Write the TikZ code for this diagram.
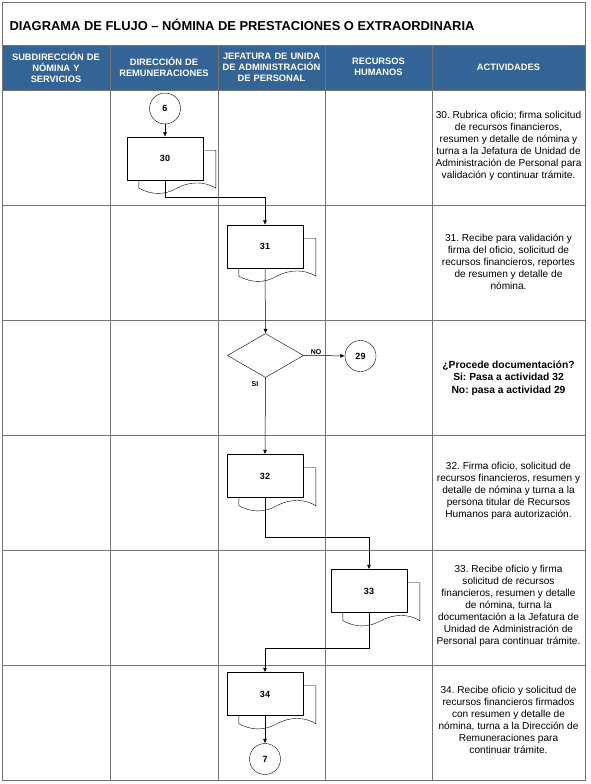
\documentclass[tikz,border=0pt]{standalone}
\usepackage{fontspec}
\setmainfont{Liberation Sans}
\usetikzlibrary{arrows.meta,positioning,shapes.geometric}
\definecolor{headblue}{RGB}{52,99,150}
\frenchspacing

\begin{document}
\begin{tikzpicture}[
      x=1pt, y=-1pt,
      grid/.style={draw=black!55, line width=0.5pt},
      head/.style={text=white, font=\bfseries\fontsize{9.3}{11}\selectfont, align=center, text width=107pt, inner sep=0pt},
      doc/.style={rectangle, draw, fill=white, minimum width=76pt, minimum height=43pt, font=\bfseries\fontsize{9}{10}\selectfont},
      conn/.style={circle, draw, fill=white, minimum size=31pt, inner sep=0pt, font=\bfseries\fontsize{9}{10}\selectfont},
      decision/.style={diamond, draw, fill=white, aspect=1.73, minimum width=76pt, minimum height=44pt, inner sep=0pt},
      act/.style={align=center, inner sep=0pt, font=\fontsize{10.1}{11.9}\selectfont},
      flow/.style={draw, line width=0.5pt, -{Latex[length=4.5pt,width=4pt]}},
      lbl/.style={font=\bfseries\fontsize{7}{8}\selectfont, inner sep=1pt},
    ]
    \useasboundingbox (0,0) rectangle (590,784);
    \fill[headblue] (2,45) rectangle (585,90);
    \draw[grid] (2,2) rectangle (585,780);
    \foreach \y in {45,90,205,320,435,550,665} \draw[grid] (2,\y) -- (585,\y);
    \foreach \x in {110,218,325,432} \draw[grid] (\x,45) -- (\x,780);

    \node[anchor=west, font=\bfseries\fontsize{12.9}{15}\selectfont] (title) at (6,25)
      {DIAGRAMA DE FLUJO – NÓMINA DE PRESTACIONES O EXTRAORDINARIA};
    \node[head] (h1) at (56,67) {SUBDIRECCIÓN DE\\NÓMINA Y\\SERVICIOS};
    \node[head] (h2) at (164,67) {DIRECCIÓN DE\\REMUNERACIONES};
    \node[head] (h3) at (271.5,67) {JEFATURA DE UNIDA\\DE ADMINISTRACIÓN\\DE PERSONAL};
    \node[head] (h4) at (378.5,67) {RECURSOS\\HUMANOS};
    \node[head] (h5) at (508.5,67) {ACTIVIDADES};

    \node[conn] (c6) at (165,108.5) {6};
    \node[doc] (d30) at (165,158.5) {30};
    \node[doc] (d31) at (265,246.5) {31};
    \node[decision] (dec) at (265.5,355.5) {};
    \node[conn] (c29) at (360.5,356) {29};
    \node[doc] (d32) at (265,476) {32};
    \node[doc] (d33) at (369,591) {33};
    \node[doc] (d34) at (265,694) {34};
    \node[conn] (c7) at (265,759) {7};

    \foreach \d in {d30,d31,d32,d33,d34}
      \draw[shift={(\d.south west)}] (76,-30) -- (89,-30) -- (89,8)
        .. controls (78,1) and (63,1) .. (50,8)
        .. controls (38,15) and (25,15) .. (12,8) -- (12,0);

    \draw[flow] (c6) -- (d30);
    \draw[flow] (d30.south) -- ++(0,17) -| (d31.north);
    \draw[flow] (d31.south) -- (dec.north);
    \draw[flow] (dec.east) -- (c29) node[lbl, pos=0.3, above] (no) {NO};
    \draw[flow] (dec.south) -- (d32.north) node[lbl, pos=0.08, left=6pt] (si) {SI};
    \draw[flow] (d32.south) -- ++(0,40) -| (d33.north);
    \draw[flow] (d33.south) -- ++(0,36) -| (d34.north);
    \draw[flow] (d34.south) -- (c7);

    \node[act] (a30) at (508.5,146) {30. Rubrica oficio; firma solicitud\\de recursos financieros,\\resumen y detalle de nómina y\\turna a la Jefatura de Unidad de\\Administración de Personal para\\validación y continuar trámite.};
    \node[act] (a31) at (508.5,262) {31. Recibe para validación y\\firma del oficio, solicitud de\\recursos financieros, reportes\\de resumen y detalle de\\nómina.};
    \node[act, font=\bfseries\fontsize{10.3}{12.4}\selectfont] (a32d) at (508.5,378) {¿Procede documentación?\\Si: Pasa a actividad 32\\No: pasa a actividad 29};
    \node[act] (a32) at (508.5,491) {32. Firma oficio, solicitud de\\recursos financieros, resumen y\\detalle de nómina y turna a la\\persona titular de Recursos\\Humanos para autorización.};
    \node[act] (a33) at (508.5,606) {33. Recibe oficio y firma\\solicitud de recursos\\financieros, resumen y detalle\\de nómina, turna la\\documentación a la Jefatura de\\Unidad de Administración de\\Personal para continuar trámite.};
    \node[act] (a34) at (508.5,720) {34. Recibe oficio y solicitud de\\recursos financieros firmados\\con resumen y detalle de\\nómina, turna a la Dirección de\\Remuneraciones para\\continuar trámite.};
  \end{tikzpicture}
\end{document}
